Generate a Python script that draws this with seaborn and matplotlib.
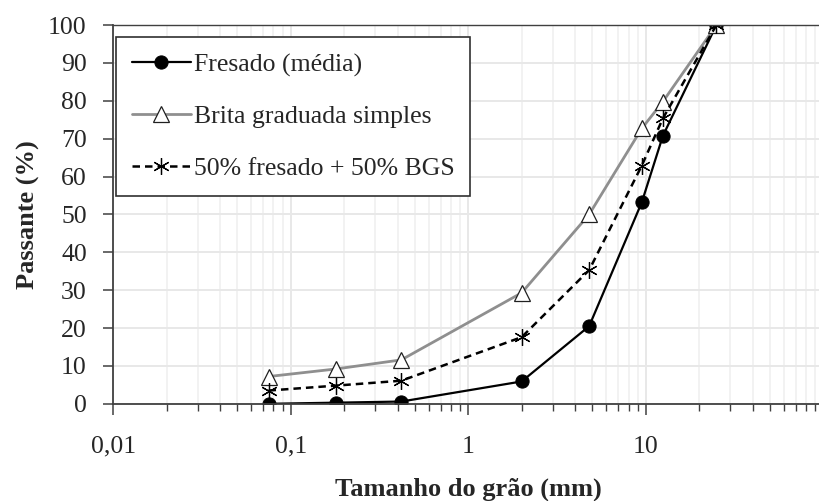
import matplotlib
matplotlib.use('Agg')
import seaborn as sns
import pandas as pd
import numpy as np
import matplotlib.pyplot as plt
from matplotlib.ticker import FixedLocator, LogLocator, NullFormatter

# peneiras (mm)
sizes = [0.075, 0.18, 0.42, 2.0, 4.8, 9.5, 12.5, 25.0]
fresado = [0.0, 0.3, 0.6, 5.9, 20.5, 53.2, 70.8, 100.0]
bgs = [7.2, 9.2, 11.6, 29.3, 50.0, 72.7, 79.8, 100.0]
mistura = [3.5, 4.8, 6.1, 17.6, 35.3, 62.9, 75.4, 100.0]

labels = ["Fresado (média)", "Brita graduada simples", "50% fresado + 50% BGS"]
xticks = [0.01, 0.1, 1, 10]
xticklabels = ["0,01", "0,1", "1", "10"]

sns.set_style("white")
plt.rcParams['font.family'] = ['Liberation Serif', 'DejaVu Serif']

fig = plt.figure(figsize=(8.2, 5.01), dpi=100)
ax = fig.add_axes([0.138, 0.194, 0.866, 0.756])

df = pd.DataFrame({"x": sizes, "fresado": fresado, "bgs": bgs, "mistura": mistura})

sns.lineplot(data=df, x="x", y="fresado", ax=ax, color="black", linewidth=1.6,
             marker="o", markersize=9.5, markerfacecolor="black", markeredgecolor="black",
             label=labels[0])
sns.lineplot(data=df, x="x", y="bgs", ax=ax, color="#8f8f8f", linewidth=2.0,
             marker="^", markersize=11, markerfacecolor="white", markeredgecolor="#202020",
             markeredgewidth=0.9, label=labels[1])
sns.lineplot(data=df, x="x", y="mistura", ax=ax, color="black", linewidth=1.8,
             linestyle=(0, (3, 2)), marker=(6, 2, 0), markersize=12,
             markeredgecolor="black", markeredgewidth=0.9, label=labels[2])

ax.set_xscale("log")
ax.set_xlim(0.01, 100)
ax.set_ylim(0, 100)
ax.xaxis.set_major_locator(FixedLocator(xticks))
ax.set_xticklabels(xticklabels)
ax.xaxis.set_minor_locator(LogLocator(base=10, subs=np.arange(2, 10)))
ax.xaxis.set_minor_formatter(NullFormatter())
ax.set_yticks(np.arange(0, 101, 10))

ax.grid(True, which="major", color="#e8e8e8", linewidth=1.4)
ax.grid(True, which="minor", axis="x", color="#f0f0f0", linewidth=1.2)
ax.set_axisbelow(True)

for s in ["left", "bottom"]:
    ax.spines[s].set_color("#404040")
    ax.spines[s].set_linewidth(1.3)
ax.spines["top"].set_color("#404040")
ax.spines["top"].set_linewidth(1.0)
ax.spines["right"].set_visible(False)

ax.tick_params(axis="x", which="major", direction="out", length=8, width=1.1,
               color="#404040", labelsize=18.5, pad=15, bottom=True)
ax.tick_params(axis="x", which="minor", direction="out", length=5, width=1.0,
               color="#404040", bottom=True)
ax.tick_params(axis="y", which="major", direction="out", length=7, width=1.1,
               color="#404040", labelsize=18.5, pad=12, left=True)

ax.set_xlabel("Tamanho do grão (mm)", fontsize=19, fontweight="bold", labelpad=14)
ax.set_ylabel("Passante (%)", fontsize=19, fontweight="bold", labelpad=6)

leg = ax.legend(loc="upper left", bbox_to_anchor=(0.004, 0.968), fontsize=18.5,
                frameon=True, fancybox=False, edgecolor="#303030", framealpha=1,
                handlelength=2.3, handletextpad=0.1, labelspacing=1.12,
                borderpad=0.62, borderaxespad=0)
leg.get_frame().set_linewidth(1.2)

plt.savefig("out.png", dpi=100)
plt.close()
